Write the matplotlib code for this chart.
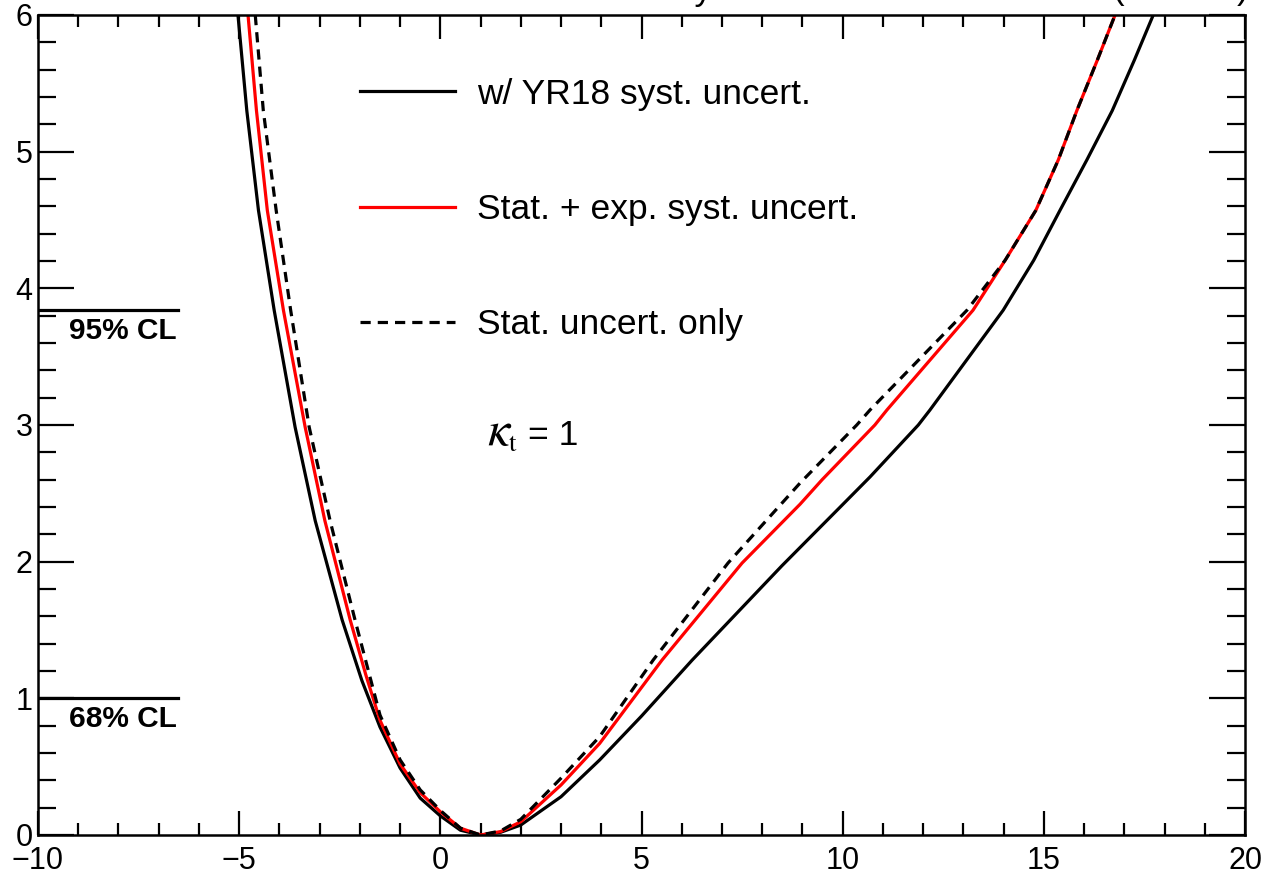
import numpy as np
import matplotlib
matplotlib.use("Agg")
import matplotlib.pyplot as plt
from matplotlib.ticker import MultipleLocator

plt.rcParams["font.family"] = ["Liberation Sans", "DejaVu Sans"]
plt.rcParams["mathtext.fontset"] = "stix"

# Delta chi^2 scans
X_YR18 = [-5.03, -4.81, -4.52, -4.13, -3.61, -3.11, -2.44, -1.95, -1.50, -1.0,
          -0.5, 0.0, 0.5, 1.0, 1.5, 2.0, 3.0, 3.96, 5.0, 6.26, 8.49, 9.94,
          10.68, 11.88, 12.17, 13.08, 13.99, 14.75, 15.40, 16.07, 16.70, 17.25, 17.72]
Y_YR18 = [6.0, 5.30, 4.57, 3.84, 2.985, 2.30, 1.573, 1.13, 0.79, 0.49,
          0.27, 0.14, 0.035, 0.0, 0.02, 0.073, 0.28, 0.549, 0.87, 1.28, 1.97, 2.40,
          2.62, 3.0, 3.11, 3.475, 3.84, 4.206, 4.57, 4.94, 5.30, 5.67, 6.0]

X_EXP = [-4.78, -4.57, -4.30, -3.90, -3.36, -2.87, -2.24, -1.85, -1.50, -1.0,
         -0.5, 0.0, 0.5, 1.0, 1.5, 2.0, 3.0, 3.96, 5.51, 7.50, 8.94, 9.49,
         10.8, 11.1, 13.24, 14.04, 14.80, 15.36, 15.82, 16.33, 16.77]
Y_EXP = [6.0, 5.30, 4.57, 3.84, 2.985, 2.30, 1.573, 1.17, 0.84, 0.52,
         0.31, 0.17, 0.05, 0.0, 0.025, 0.097, 0.366, 0.67, 1.28, 1.99, 2.42, 2.6,
         3.0, 3.11, 3.84, 4.206, 4.57, 4.94, 5.30, 5.67, 6.0]

X_STAT = [-4.60, -4.40, -4.08, -3.72, -3.26, -2.74, -2.12, -1.50, -1.0,
          -0.5, 0.0, 0.5, 1.0, 1.5, 2.0, 3.0, 3.96, 5.29, 7.15, 8.94, 10.35,
          10.68, 13.09, 14.04, 14.80, 15.36, 15.82, 16.33, 16.77]
Y_STAT = [6.0, 5.30, 4.57, 3.84, 2.985, 2.30, 1.573, 0.878, 0.55,
          0.33, 0.18, 0.05, 0.0, 0.03, 0.115, 0.416, 0.72, 1.28, 1.99, 2.575, 3.0,
          3.11, 3.84, 4.206, 4.57, 4.94, 5.30, 5.67, 6.0]

CL_LEVELS = [1.0, 3.84]
CL_LABELS = ["68% CL", "95% CL"]

LABELS = ["w/ YR18 syst. uncert.", "Stat. + exp. syst. uncert.", "Stat. uncert. only"]

W, H = 1270, 876
fig = plt.figure(figsize=(W / 100, H / 100), dpi=100)
ax = fig.add_axes([38 / W, 41 / H, 1207 / W, 820 / H])

lw = 2.3
ax.plot(X_YR18, Y_YR18, color="black", lw=lw, label=LABELS[0])
ax.plot(X_EXP, Y_EXP, color="#ff0000", lw=lw, label=LABELS[1])
ax.plot(X_STAT, Y_STAT, color="black", lw=lw, dashes=(3.2, 2.2), label=LABELS[2])

for lev, lab in zip(CL_LEVELS, CL_LABELS):
    ax.axhline(lev, xmin=0, xmax=0.116, color="black", lw=2.3)
    ax.text(-6.56, lev - 0.05, lab, ha="right", va="top",
            fontsize=21.5, fontweight="bold")

# kappa_t = 1 label, pieces placed in figure pixels
fig.text(487 / W, 1 - 445 / H, r"$\kappa$", fontsize=36, ha="left", va="baseline")
fig.text(508 / W, 1 - 451 / H, r"$\mathrm{t}$", fontsize=19, ha="left", va="baseline")
fig.text(528 / W, 1 - 445 / H, "= 1", fontsize=25.5, ha="left", va="baseline")

leg = ax.legend(loc="upper left", bbox_to_anchor=(0.2668, 0.9234), frameon=False,
                fontsize=25.5, handlelength=2.68, handletextpad=0.62,
                labelspacing=2.32, borderpad=0, borderaxespad=0)

ax.set_xlim(-10, 20)
ax.set_ylim(0, 6)
ax.xaxis.set_major_locator(MultipleLocator(5))
ax.xaxis.set_minor_locator(MultipleLocator(1))
ax.yaxis.set_major_locator(MultipleLocator(1))
ax.yaxis.set_minor_locator(MultipleLocator(0.2))
ax.tick_params(axis="both", which="both", direction="in", top=True, right=True,
               labelsize=22, width=1.6, color="black")
ax.tick_params(axis="x", which="major", length=17, pad=8)
ax.tick_params(axis="x", which="minor", length=8.5)
ax.tick_params(axis="y", which="major", length=26, pad=4)
ax.tick_params(axis="y", which="minor", length=13)
for sp in ax.spines.values():
    sp.set_linewidth(1.8)

# header text sits above the canvas, only descenders show
fig.text(712 / W, 1.0, "Preliminary", ha="right", va="baseline", fontsize=25)
fig.text(1248 / W, 1.0, r"3000 fb$^{\mathregular{-1}}$ (14 TeV)",
         ha="right", va="baseline", fontsize=25)

fig.savefig("out.png", dpi=100)
